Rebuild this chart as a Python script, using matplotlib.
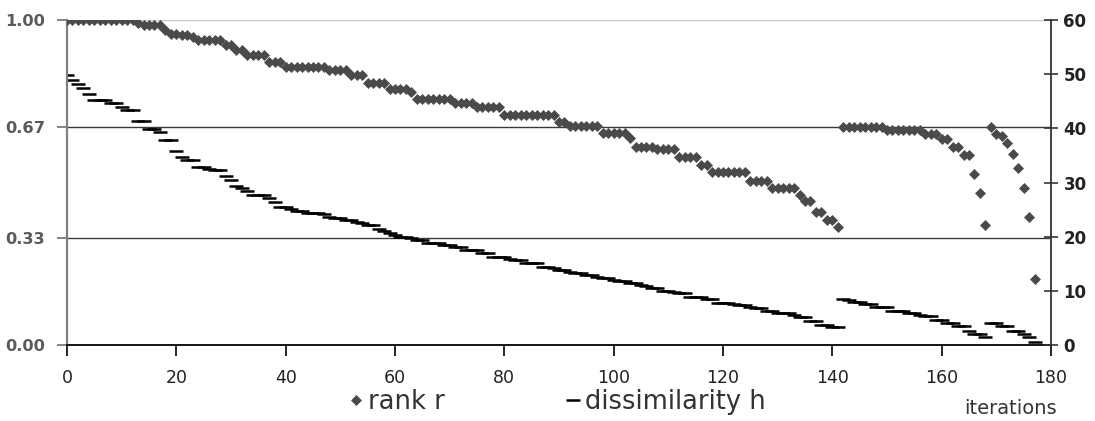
import matplotlib
matplotlib.use('Agg')
import matplotlib.pyplot as plt
import numpy as np

# rank r (right axis, 0..60), one value per iteration
rank_r = [60]*13 + [59.4, 59.1, 59.1, 59.1, 59.1, 58.2, 57.5, 57.5, 57.2, 57.2, 56.8,
          56.4, 56.4, 56.4, 56.4, 56.4, 55.4, 55.4, 54.5, 54.5,
          53.5, 53.5, 53.5, 53.5, 52.3, 52.3, 52.3,
          51.4, 51.4, 51.4, 51.4, 51.4, 51.4, 51.4, 51.4,
          50.8, 50.8, 50.8, 50.8, 49.8, 49.8, 49.8,
          48.3, 48.3, 48.3, 48.3, 47.2, 47.2, 47.2, 47.2, 46.8,
          45.5, 45.5, 45.5, 45.5, 45.5, 45.5, 45.5,
          44.6, 44.6, 44.6, 44.6, 43.9, 43.9, 43.9, 43.9, 43.9,
          42.5, 42.5, 42.5, 42.5, 42.5, 42.5, 42.5, 42.5, 42.5, 42.5,
          41.2, 41.2, 40.5, 40.5, 40.5, 40.5, 40.5, 40.5,
          39.1, 39.1, 39.1, 39.1, 39.1, 38.2,
          36.5, 36.5, 36.5, 36.5, 36.1, 36.1, 36.1, 36.1,
          34.8, 34.8, 34.8, 34.8, 33.2, 33.2,
          32.0, 32.0, 32.0, 32.0, 32.0, 32.0, 32.0,
          30.3, 30.3, 30.3, 30.3, 28.9, 28.9, 28.9, 28.9, 28.9,
          27.7, 26.5, 26.5, 24.6, 24.6, 23.1, 23.1, 21.8,
          40.3, 40.3, 40.3, 40.3, 40.3, 40.3, 40.3, 40.3,
          39.7, 39.7, 39.7, 39.7, 39.7, 39.7, 39.7, 39.0, 39.0, 39.0,
          38.0, 38.0, 36.5, 36.5, 35.0, 35.0, 31.6, 28.1, 22.2,
          40.2, 39.0, 38.5, 37.2, 35.3, 32.6, 28.9, 23.7, 12.2]

# dissimilarity h (left axis, 0..1)
dissim_h = [0.831, 0.815, 0.802, 0.790, 0.772, 0.754, 0.754, 0.754, 0.745, 0.745,
            0.733, 0.723, 0.723, 0.690, 0.690, 0.664, 0.664, 0.656, 0.632, 0.632,
            0.597, 0.580, 0.568, 0.568, 0.549, 0.549, 0.542, 0.538, 0.538, 0.521,
            0.508, 0.489, 0.482, 0.475, 0.462, 0.462, 0.462, 0.451, 0.439, 0.426,
            0.426, 0.418, 0.413, 0.413, 0.407, 0.407, 0.407, 0.403, 0.395, 0.392,
            0.392, 0.385, 0.385, 0.379, 0.376, 0.369, 0.369, 0.356, 0.352, 0.345,
            0.340, 0.333, 0.333, 0.328, 0.323, 0.323, 0.313, 0.313, 0.313, 0.308,
            0.308, 0.301, 0.301, 0.292, 0.292, 0.292, 0.284, 0.284, 0.272, 0.272,
            0.272, 0.265, 0.261, 0.261, 0.251, 0.251, 0.251, 0.241, 0.241, 0.236,
            0.231, 0.231, 0.226, 0.223, 0.223, 0.215, 0.215, 0.210, 0.205, 0.205,
            0.200, 0.197, 0.197, 0.190, 0.190, 0.185, 0.181, 0.174, 0.174, 0.167,
            0.167, 0.163, 0.159, 0.159, 0.149, 0.149, 0.149, 0.141, 0.141, 0.130,
            0.130, 0.130, 0.126, 0.123, 0.123, 0.118, 0.113, 0.113, 0.105, 0.105,
            0.100, 0.097, 0.097, 0.092, 0.087, 0.087, 0.075, 0.075, 0.063, 0.063,
            0.054, 0.054, 0.142, 0.137, 0.133, 0.133, 0.126, 0.126, 0.118, 0.118,
            0.118, 0.106, 0.106, 0.106, 0.097, 0.097, 0.093, 0.089, 0.089, 0.077,
            0.077, 0.067, 0.067, 0.057, 0.057, 0.043, 0.033, 0.033, 0.024, 0.067,
            0.067, 0.057, 0.057, 0.043, 0.043, 0.033, 0.024, 0.010]

left_ticks = [0.0, 0.33, 0.67, 1.0]
left_labels = ["0.00", "0.33", "0.67", "1.00"]
right_ticks = [0, 10, 20, 30, 40, 50, 60]
x_ticks = [0, 20, 40, 60, 80, 100, 120, 140, 160, 180]

iters = np.arange(len(rank_r))
iters_h = np.arange(len(dissim_h))

fig = plt.figure(figsize=(10.95, 4.21), dpi=100)
ax = fig.add_axes([67/1095, 1-345/421, (1051-67)/1095, (345-20)/421])
ax2 = ax.twinx()

# horizontal reference lines
for yv in left_ticks[1:]:
    col = '#c8c8c8' if yv == 1.0 else '#3a3a3a'
    ax.axhline(yv, color=col, lw=1.0, zorder=0)

hl, = ax.plot(iters_h, dissim_h, linestyle='none', marker='_', ms=9.5, mew=1.8,
              color='black', label='dissimilarity h')
rl, = ax2.plot(iters, rank_r, linestyle='none', marker='D', ms=4.8, mew=0.5,
               color='#4a4a4a', label='rank r')

ax.set_xlim(0, 180)
ax.set_ylim(0, 1)
ax2.set_ylim(0, 60)

ax.set_xticks(x_ticks)
ax.set_yticks(left_ticks)
ax.set_yticklabels(left_labels)
ax2.set_yticks(right_ticks)

ax.tick_params(axis='x', direction='out', length=8, width=1.2, pad=9,
               labelsize=12.5, labelcolor='#222222')
ax.tick_params(axis='y', direction='out', length=7, width=1.2, pad=9,
               labelsize=11.7, labelcolor='#5a5a5a', color='#707070')
ax2.tick_params(axis='y', direction='inout', length=10, width=1.2, pad=4,
                labelsize=12, labelcolor='#222222', color='#333333')
for lab in ax.get_yticklabels() + ax2.get_yticklabels():
    lab.set_fontweight('bold')

for a in (ax, ax2):
    a.spines['top'].set_visible(False)
ax.spines['left'].set_color('#808080')
ax.spines['left'].set_linewidth(1.6)
ax.spines['bottom'].set_color('black')
ax.spines['bottom'].set_linewidth(1.3)
ax.spines['right'].set_visible(False)
ax2.spines['left'].set_visible(False)
ax2.spines['bottom'].set_visible(False)
ax2.spines['right'].set_color('#333333')
ax2.spines['right'].set_linewidth(1.3)

fig.legend(handles=[rl, hl], loc='center left', ncol=2, frameon=False,
           bbox_to_anchor=(351/1095, 1-402/421), borderpad=0, borderaxespad=0,
           handlelength=0.4, handletextpad=0.25, columnspacing=4.8,
           prop={'size': 18.5}, labelcolor='#333333')
fig.text(1057/1095, 1-408/421, 'iterations', ha='right', va='center',
         fontsize=14, color='#333333')

fig.savefig('out.png', dpi=100)
